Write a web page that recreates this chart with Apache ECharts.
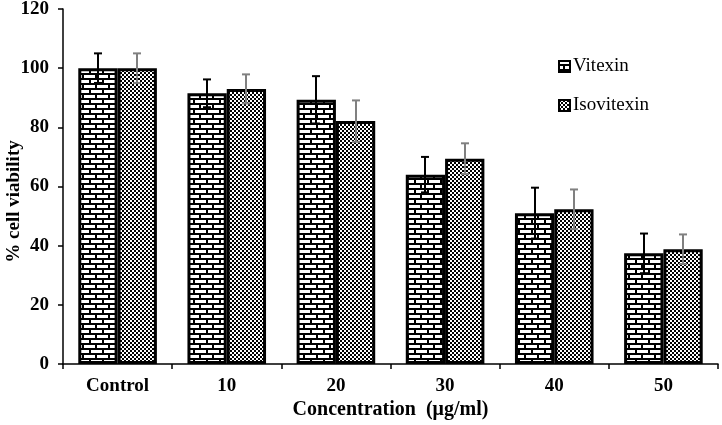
<!DOCTYPE html>
<html>
<head>
<meta charset="utf-8">
<script src="https://cdn.jsdelivr.net/npm/echarts@6/dist/echarts.min.js"></script>
<style>html,body{margin:0;padding:0;background:#fff}#c{width:722px;height:425px}</style>
</head>
<body>
<div id="c"></div>
<script>
const categories = ['Control', '10', '20', '30', '40', '50'];
const vitexin = [100, 91.5, 89.3, 64, 51, 37.4];
const isovitexin = [100, 93, 82.1, 69.4, 52.3, 38.8];
const vitexinErr = [5, 4.7, 8, 6, 8.6, 6.7];
const isovitexinErr = [5, 4.9, 7, 5.2, 6.7, 5];
const yTicks = [0, 20, 40, 60, 80, 100, 120];

const FONT = "'Liberation Serif', 'Times New Roman', serif";

function brickPattern() {
  const c = document.createElement('canvas');
  c.width = 13; c.height = 10;
  const g = c.getContext('2d');
  g.fillStyle = '#000'; g.fillRect(0, 0, 13, 10);
  g.fillStyle = '#fff';
  g.fillRect(0, 0, 11, 3);
  g.fillRect(6, 5, 7, 3);
  g.fillRect(0, 5, 4, 3);
  return c;
}
function checkerPattern() {
  const c = document.createElement('canvas');
  c.width = 4; c.height = 4;
  const g = c.getContext('2d');
  g.fillStyle = '#fff'; g.fillRect(0, 0, 4, 4);
  g.fillStyle = '#000';
  g.fillRect(0, 0, 2, 2);
  g.fillRect(2, 2, 2, 2);
  return c;
}
const brick = { image: brickPattern(), repeat: 'repeat' };
const checker = { image: checkerPattern(), repeat: 'repeat' };

function errSeries(name, vals, errs, sign, color) {
  return {
    type: 'custom',
    name: name + ' err',
    z: 5,
    encode: { x: 0, y: 1 },
    data: categories.map((c, i) => [i, vals[i], errs[i]]),
    renderItem: function (params, api) {
      const ci = api.value(0), v = api.value(1), e = api.value(2);
      const band = api.size([1, 0])[0];
      const off = sign * band * 0.18;
      const top = api.coord([ci, v + e]);
      const bot = api.coord([ci, v - e]);
      const x = Math.round(top[0] + off);
      const hw = 4;
      const st = { stroke: color, lineWidth: 2 };
      return {
        type: 'group',
        children: [
          { type: 'line', shape: { x1: x, y1: top[1], x2: x, y2: bot[1] }, style: st },
          { type: 'line', shape: { x1: x - hw, y1: top[1], x2: x + hw, y2: top[1] }, style: st },
          { type: 'line', shape: { x1: x - hw, y1: bot[1], x2: x + hw, y2: bot[1] }, style: st }
        ]
      };
    }
  };
}

const chart = echarts.init(document.getElementById('c'), null, { renderer: 'canvas' });
chart.setOption({
  animation: false,
  backgroundColor: '#fff',
  grid: { left: 63, right: 4, top: 9, bottom: 61, containLabel: false, outerBoundsMode: 'none' },
  legend: {
    orient: 'vertical',
    left: 553,
    top: 52,
    itemGap: 20,
    itemWidth: 11,
    itemHeight: 11,
    icon: 'rect',
    data: ['Vitexin', 'Isovitexin'],
    itemStyle: { borderColor: '#000', borderWidth: 2 },
    textStyle: { fontFamily: FONT, fontSize: 19, color: '#000', padding: [0, 0, 0, -2] }
  },
  xAxis: {
    type: 'category',
    data: categories,
    name: 'Concentration  (μg/ml)',
    nameLocation: 'middle',
    nameGap: 36,
    nameMoveOverlap: false,
    nameTextStyle: { fontFamily: FONT, fontSize: 20, fontWeight: 'bold', color: '#000' },
    axisLine: { lineStyle: { color: '#000', width: 1.5 } },
    axisTick: { show: true, length: 5, lineStyle: { color: '#000', width: 1.5 } },
    axisLabel: { fontFamily: FONT, fontSize: 19, fontWeight: 'bold', color: '#000', margin: 13 }
  },
  yAxis: {
    type: 'value',
    min: 0,
    max: 120,
    interval: 20,
    name: '% cell viability',
    nameLocation: 'middle',
    nameGap: 39,
    nameMoveOverlap: false,
    nameTextStyle: { fontFamily: FONT, fontSize: 19, fontWeight: 'bold', color: '#000', padding: [0, 30, 0, 0] },
    splitLine: { show: false },
    axisLine: { show: true, lineStyle: { color: '#000', width: 1.5 } },
    axisTick: { show: true, length: 5, lineStyle: { color: '#000', width: 1.5 } },
    axisLabel: {
      fontFamily: FONT, fontSize: 19, fontWeight: 'bold', color: '#000', margin: 14,
      formatter: function (v) { return yTicks.indexOf(v) >= 0 ? String(v) : ''; }
    }
  },
  series: [
    {
      type: 'bar', name: 'Vitexin', data: vitexin,
      barWidth: '36%', barGap: '0%',
      itemStyle: { color: brick, borderColor: '#000', borderWidth: 3 }
    },
    {
      type: 'bar', name: 'Isovitexin', data: isovitexin,
      barWidth: '36%', barGap: '0%',
      itemStyle: { color: checker, borderColor: '#000', borderWidth: 3 }
    },
    errSeries('Vitexin', vitexin, vitexinErr, -1, '#000'),
    errSeries('Isovitexin', isovitexin, isovitexinErr, 1, '#808080')
  ]
});
</script>
</body>
</html>
